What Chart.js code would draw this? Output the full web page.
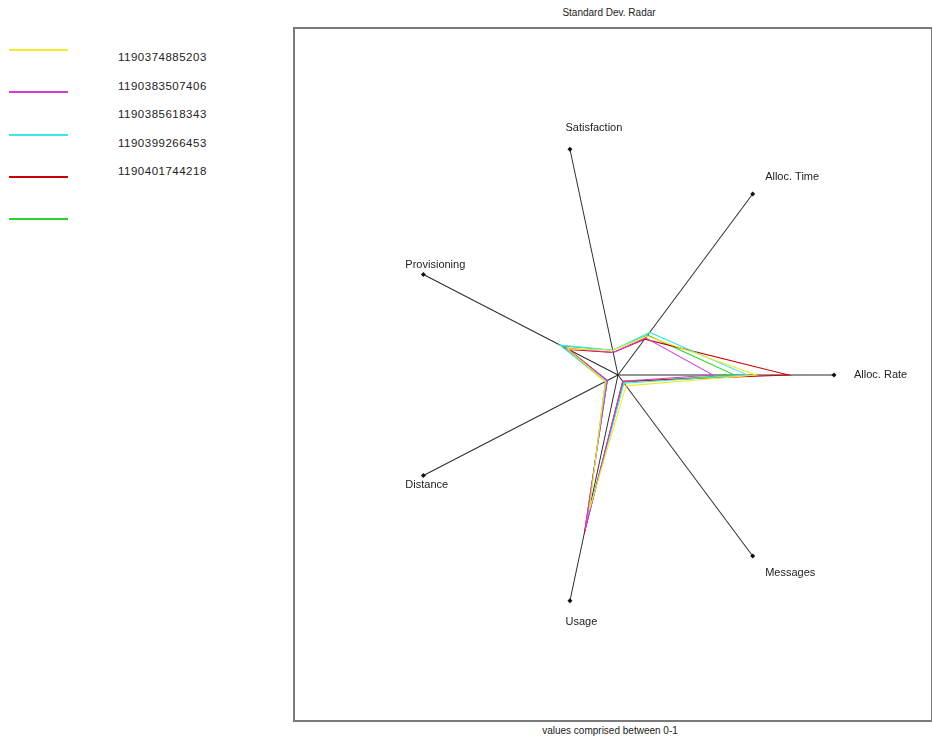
<!DOCTYPE html>
<html>
<head>
<meta charset="utf-8">
<script src="https://cdn.jsdelivr.net/npm/chart.js@4.4.1/dist/chart.umd.min.js"></script>
<style>
  body { margin: 0; background: #fff; font-family: "Liberation Sans", Arial, sans-serif; }
  #wrap { position: relative; width: 932px; height: 743px; overflow: hidden; }
  #frame { position: absolute; left: 293px; top: 27px; width: 636px; height: 691px; border: 2px solid #7a7a7a; }
  .txt { position: absolute; font-size: 11px; color: #222; white-space: nowrap; }
  #title { left: 289px; width: 640px; top: 7px; text-align: center; font-size: 10px; }
  #subtitle { left: 290px; width: 640px; top: 725px; text-align: center; font-size: 10px; }
  .name { font-size: 11.5px; letter-spacing: 0.5px; }
  .swatch { position: absolute; left: 9px; width: 59px; height: 2px; }
  canvas { position: absolute; left: 0; top: 0; }
</style>
</head>
<body>
<div id="wrap">
  <div id="frame"></div>
  <div class="txt" id="title">Standard Dev. Radar</div>
  <div class="txt" id="subtitle">values comprised between 0-1</div>
  <div id="legend"></div>
  <canvas id="radar" width="932" height="743"></canvas>
</div>
<script>
// axes, clockwise starting from the right
const axes = ['Alloc. Rate', 'Messages', 'Usage', 'Distance', 'Provisioning', 'Satisfaction', 'Alloc. Time'];

const names = ['1190374885203', '1190383507406', '1190385618343', '1190399266453', '1190401744218'];
const colors = ['#f2ea2c', '#d040d0', '#3ee6e6', '#c80000', '#2fd02f'];

const run1 = [0.64, 0.06, 0.60, 0.065, 0.26, 0.11, 0.215];
const run2 = [0.44, 0.035, 0.69, 0.055, 0.27, 0.10, 0.205];
const run3 = [0.60, 0.045, 0.64, 0.06, 0.30, 0.11, 0.235];
const run4 = [0.79, 0.035, 0.70, 0.055, 0.255, 0.10, 0.198];
const run5 = [0.54, 0.04, 0.62, 0.065, 0.29, 0.11, 0.22];
const runs = [run1, run2, run3, run4, run5];

// the web is a bit taller than wide in the original
const stretchY = 1.072;

// legend: line swatches and names sit on different spacings
const legend = document.getElementById('legend');
colors.forEach((c, i) => {
  const s = document.createElement('div');
  s.className = 'swatch';
  s.style.top = Math.round(49 + i * 42.3) + 'px';
  s.style.backgroundColor = c;
  legend.appendChild(s);
});
names.forEach((n, i) => {
  const t = document.createElement('div');
  t.className = 'txt name';
  t.style.left = '118px';
  t.style.top = Math.round(51 + i * 28.6) + 'px';
  t.textContent = n;
  legend.appendChild(t);
});

const ellipse = {
  id: 'ellipse',
  beforeDraw(chart) {
    const s = chart.scales.r;
    const ctx = chart.ctx;
    ctx.save();
    ctx.translate(s.xCenter, s.yCenter);
    ctx.scale(1, stretchY);
    ctx.translate(-s.xCenter, -s.yCenter);
  },
  afterDraw(chart) {
    const s = chart.scales.r;
    const ctx = chart.ctx;
    ctx.restore();
    ctx.save();
    ctx.font = '11px "Liberation Sans", Arial, sans-serif';
    ctx.textAlign = 'left';
    ctx.textBaseline = 'middle';
    axes.forEach((lab, i) => {
      const p = s.getPointPosition(i, s.drawingArea);
      const x = p.x;
      const y = s.yCenter + (p.y - s.yCenter) * stretchY;
      const a = s.getIndexAngle(i) - Math.PI / 2;
      ctx.fillStyle = '#111';
      ctx.beginPath();
      ctx.moveTo(x, y - 2.5); ctx.lineTo(x + 2.5, y); ctx.lineTo(x, y + 2.5); ctx.lineTo(x - 2.5, y);
      ctx.closePath();
      ctx.fill();
      ctx.fillStyle = '#222';
      ctx.fillText(lab, x + 20 * Math.cos(a), y + 22 * Math.sin(a));
    });
    ctx.restore();
  }
};

new Chart(document.getElementById('radar'), {
  type: 'radar',
  data: {
    labels: axes,
    datasets: runs.map((d, i) => ({
      label: names[i],
      data: d,
      borderColor: colors[i],
      borderWidth: 1,
      fill: false,
      pointRadius: 0,
      tension: 0,
      clip: false
    }))
  },
  options: {
    responsive: false,
    animation: false,
    layout: { padding: { left: 402, right: 98, top: 159, bottom: 152 } },
    plugins: { legend: { display: false }, tooltip: { enabled: false } },
    scales: {
      r: {
        min: 0,
        max: 1,
        startAngle: 90,
        ticks: { display: false },
        grid: { display: false },
        angleLines: { color: '#2a2a2a', lineWidth: 1 },
        pointLabels: { display: false }
      }
    }
  },
  plugins: [ellipse]
});
</script>
</body>
</html>
